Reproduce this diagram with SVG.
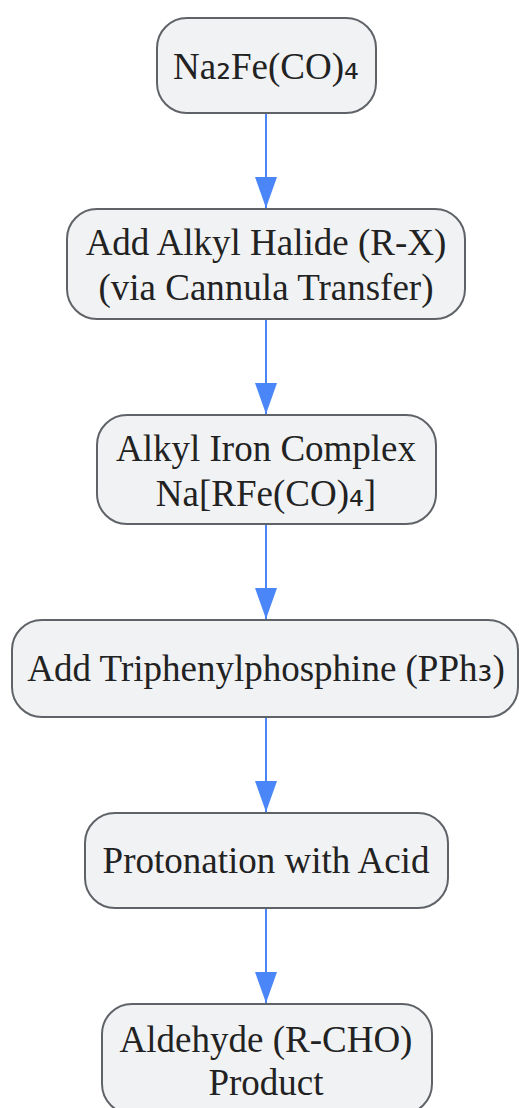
<svg xmlns="http://www.w3.org/2000/svg" width="519" height="1108" viewBox="0 0 519 1108">
<style>
.node rect{fill:#f1f2f4;stroke:#5f6368;stroke-width:2}
.node text{font-family:"Liberation Serif","DejaVu Serif",serif;font-size:37px;fill:#222;text-anchor:middle}
.sub{font-family:"Noto Sans CJK SC","DejaVu Sans",sans-serif}
.edge{stroke:#4a86f7;stroke-width:2;fill:none}
</style>
<defs>
<marker id="arr" markerUnits="userSpaceOnUse" markerWidth="32" markerHeight="22" refX="31" refY="11" orient="auto" viewBox="0 0 32 22">
<path d="M0,0 L31,11 L0,22 Z" fill="#4a86f7"/>
</marker>
</defs>
<rect width="519" height="1108" fill="#fff"/>
<g id="connectors">
<line class="edge" x1="266" y1="113" x2="266" y2="208" marker-end="url(#arr)"/>
<line class="edge" x1="266" y1="319" x2="266" y2="414" marker-end="url(#arr)"/>
<line class="edge" x1="266" y1="524" x2="266" y2="619" marker-end="url(#arr)"/>
<line class="edge" x1="266" y1="717" x2="266" y2="812" marker-end="url(#arr)"/>
<line class="edge" x1="266" y1="908" x2="266" y2="1003" marker-end="url(#arr)"/>
</g>
<g id="n1" class="node"><rect x="157" y="18" width="219" height="95" rx="30"/><text x="266" y="79">Na<tspan class="sub">₂</tspan>Fe(CO)<tspan class="sub">₄</tspan></text></g>
<g id="n2" class="node"><rect x="67" y="209" width="398" height="110" rx="30"/><text x="266" y="255">Add Alkyl Halide (R-X)</text><text x="266" y="300">(via Cannula Transfer)</text></g>
<g id="n3" class="node"><rect x="97" y="415" width="339" height="109" rx="30"/><text x="266" y="461">Alkyl Iron Complex</text><text x="266" y="506">Na[RFe(CO)<tspan class="sub">₄</tspan>]</text></g>
<g id="n4" class="node"><rect x="12" y="620" width="506" height="97" rx="30"/><text x="266" y="681">Add Triphenylphosphine (PPh<tspan class="sub">₃</tspan>)</text></g>
<g id="n5" class="node"><rect x="85" y="813" width="363" height="95" rx="30"/><text x="266" y="873">Protonation with Acid</text></g>
<g id="n6" class="node"><rect x="102" y="1004" width="330" height="110" rx="30"/><text x="266" y="1052">Aldehyde (R-CHO)</text><text x="266" y="1095">Product</text></g>
</svg>
